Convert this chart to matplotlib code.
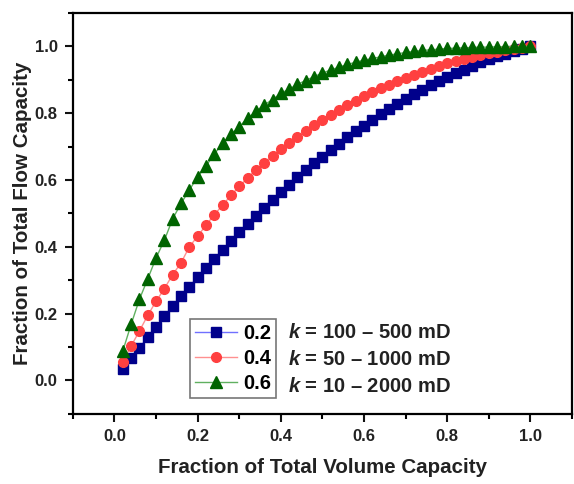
import matplotlib
matplotlib.use("Agg")
import matplotlib.pyplot as plt
from matplotlib.ticker import MultipleLocator

plt.rcParams['font.family'] = ['Liberation Sans', 'DejaVu Sans']
plt.rcParams['mathtext.fontset'] = 'custom'
plt.rcParams['mathtext.it'] = 'Liberation Sans:italic:bold'
plt.rcParams['mathtext.rm'] = 'Liberation Sans:bold'

# fraction of total volume capacity (same for all three curves)
volume_frac = [0.02, 0.04, 0.06, 0.08, 0.10, 0.12, 0.14, 0.16, 0.18, 0.20,
               0.22, 0.24, 0.26, 0.28, 0.30, 0.32, 0.34, 0.36, 0.38, 0.40,
               0.42, 0.44, 0.46, 0.48, 0.50, 0.52, 0.54, 0.56, 0.58, 0.60,
               0.62, 0.64, 0.66, 0.68, 0.70, 0.72, 0.74, 0.76, 0.78, 0.80,
               0.82, 0.84, 0.86, 0.88, 0.90, 0.92, 0.94, 0.96, 0.98, 1.00]

flow_02 = [0.033, 0.066, 0.098, 0.130, 0.161, 0.192, 0.222, 0.252, 0.281, 0.309,
           0.337, 0.364, 0.391, 0.417, 0.443, 0.468, 0.493, 0.517, 0.540, 0.563,
           0.586, 0.608, 0.629, 0.650, 0.670, 0.690, 0.709, 0.728, 0.746, 0.763,
           0.780, 0.797, 0.813, 0.828, 0.843, 0.857, 0.871, 0.884, 0.897, 0.909,
           0.920, 0.931, 0.942, 0.952, 0.961, 0.970, 0.978, 0.986, 0.993, 1.000]

flow_04 = [0.055, 0.103, 0.148, 0.195, 0.237, 0.275, 0.317, 0.352, 0.400, 0.432,
           0.465, 0.496, 0.525, 0.554, 0.581, 0.606, 0.630, 0.652, 0.673, 0.694,
           0.712, 0.730, 0.748, 0.764, 0.780, 0.795, 0.810, 0.824, 0.838, 0.851,
           0.863, 0.875, 0.886, 0.897, 0.907, 0.916, 0.925, 0.934, 0.942, 0.949,
           0.956, 0.962, 0.968, 0.974, 0.979, 0.984, 0.988, 0.992, 0.996, 1.000]

flow_06 = [0.088, 0.168, 0.243, 0.304, 0.367, 0.420, 0.484, 0.530, 0.570, 0.610,
           0.642, 0.678, 0.710, 0.737, 0.760, 0.785, 0.806, 0.825, 0.841, 0.860,
           0.872, 0.887, 0.898, 0.910, 0.920, 0.930, 0.938, 0.946, 0.953, 0.959,
           0.964, 0.969, 0.974, 0.978, 0.982, 0.985, 0.988, 0.990, 0.992, 0.994,
           0.995, 0.996, 0.997, 0.998, 0.998, 0.999, 0.999, 1.000, 1.000, 1.000]

labels = ['0.2', '0.4', '0.6']
k_ranges = ['$k$ = 100 – 500 mD', '$k$ = 50 – 1000 mD', '$k$ = 10 – 2000 mD']

styles = [
    dict(marker='s', color='#7070ff', mfc='#00008b', mec='#00008b', ms=6.5),
    dict(marker='o', color='#ff9090', mfc='#ff4040', mec='#ff4040', ms=7),
    dict(marker='^', color='#60b060', mfc='#006400', mec='#006400', ms=8.5),
]

fig = plt.figure(figsize=(5.74, 4.84), dpi=100)
ax = fig.add_axes([0.127, 0.145, 0.8695, 0.828])

for ys, lab, st in zip([flow_02, flow_04, flow_06], labels, styles):
    ax.plot(volume_frac, ys, lw=1, label=lab, **st)

ax.set_xlim(-0.1, 1.1)
ax.set_ylim(-0.1, 1.1)
ax.xaxis.set_major_locator(MultipleLocator(0.2))
ax.yaxis.set_major_locator(MultipleLocator(0.2))
ax.xaxis.set_minor_locator(MultipleLocator(0.1))
ax.yaxis.set_minor_locator(MultipleLocator(0.1))
ax.tick_params(which='major', direction='out', length=6, width=1.5,
               labelsize=12, colors='#111111', pad=5)
ax.tick_params(which='minor', direction='out', length=3.5, width=1.5)
for lbl in ax.get_xticklabels() + ax.get_yticklabels():
    lbl.set_fontweight('bold')
    lbl.set_color('#222222')
for sp in ax.spines.values():
    sp.set_linewidth(1.6)

ax.set_xlabel('Fraction of Total Volume Capacity', fontsize=14.8,
              fontweight='bold', color='#222222', labelpad=10)
ax.set_ylabel('Fraction of Total Flow Capacity', fontsize=14.8,
              fontweight='bold', color='#222222', labelpad=2)

leg = ax.legend(loc='lower left', bbox_to_anchor=(0.234, 0.040),
                prop=dict(weight='bold', size=14.5), fancybox=False,
                edgecolor='#555555', handlelength=2.1, handletextpad=0.3,
                borderpad=0.25, labelspacing=0.3, borderaxespad=0.0)
leg.get_frame().set_linewidth(1.2)

for i, txt in enumerate(k_ranges):
    ax.text(0.43, 0.204 - i * 0.0675, txt, transform=ax.transAxes,
            fontsize=14.5, fontweight='bold', color='#222222', va='center')

fig.savefig('out.png', dpi=100)
